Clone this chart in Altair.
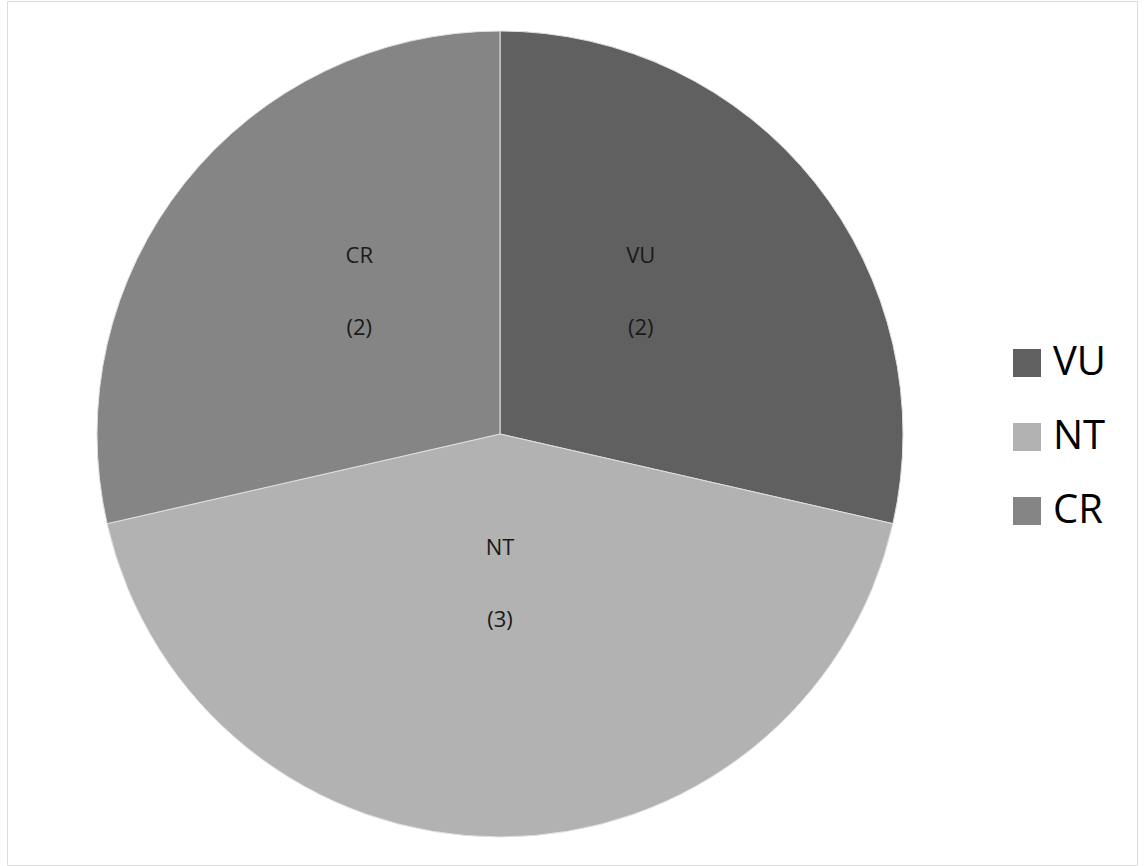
import altair as alt
import pandas as pd

categories = ["VU", "NT", "CR"]
counts = [2, 3, 2]
colors = ["#606060", "#b2b2b2", "#858585"]

df = pd.DataFrame({
    "cat": categories,
    "count": counts,
    "idx": list(range(len(categories))),
})
df["label"] = df["cat"] + "\n(" + df["count"].astype(str) + ")"

CX, CY = 493, 433

base = alt.Chart(df).encode(
    theta=alt.Theta("count:Q", stack=True),
    order=alt.Order("idx:Q"),
)

pie = base.mark_arc(radius=403, stroke="#e0e0e0", strokeWidth=1).encode(
    x=alt.value(CX), y=alt.value(CY),
    color=alt.Color(
        "cat:N",
        scale=alt.Scale(domain=categories, range=colors),
        sort=categories,
        legend=alt.Legend(
            title=None, orient="none", legendX=1000, legendY=342,
            symbolType="square", symbolSize=784, symbolStrokeWidth=0,
            labelFontSize=40, labelFont="Open Sans", labelColor="#000000",
            rowPadding=34, labelOffset=6,
        ),
    ),
)

text = base.mark_text(
    radius=180, dy=-66, fontSize=22, font="Open Sans", color="#1a1a1a",
    lineBreak="\n", lineHeight=72, align="center", baseline="middle",
).encode(
    x=alt.value(CX), y=alt.value(CY),
    text="label:N",
)

chart = (pie + text).properties(
    width=1130, height=864,
    padding={"left": 7, "top": 1, "right": 11, "bottom": 1},
    autosize=alt.AutoSizeParams(type="none"),
).configure_view(stroke="#858585", strokeWidth=3).configure(background="white")

chart.save("out.html", embed_options={"renderer": "svg", "actions": False})
